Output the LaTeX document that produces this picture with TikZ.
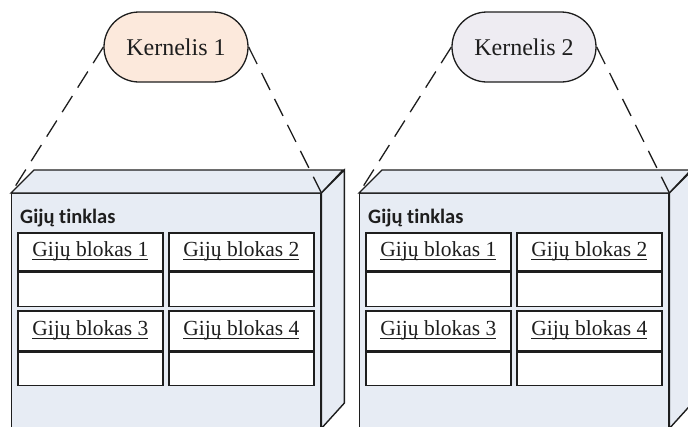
\documentclass[tikz,border=0pt]{standalone}
\usepackage{fontspec}
\setmainfont{Liberation Serif}
\newfontfamily\calib[Ligatures=NoCommon]{Carlito}
\usetikzlibrary{shapes.misc}
\definecolor{kernA}{HTML}{FCE9DC}
\definecolor{kernB}{HTML}{EEECF2}
\definecolor{cubefill}{HTML}{E7ECF4}
\definecolor{inkc}{HTML}{1E1E1E}
\newsavebox\ulbox
\newcommand{\myul}[1]{\sbox\ulbox{#1}\rlap{\usebox\ulbox}\rule[-3.6pt]{\wd\ulbox}{1.4pt}}
\tikzset{
  kernbox/.style={rounded rectangle, draw=inkc, line width=1.3pt, minimum width=144pt,
    minimum height=70pt, inner sep=0pt, text=inkc, font=\fontsize{24}{28}\selectfont},
  cubeline/.style={draw=inkc, line width=1.4pt, line join=miter},
  cubefront/.style={cubeline, fill=cubefill, rectangle, inner sep=0pt, anchor=north west,
    minimum width=309pt, minimum height=234pt},
  gridlabel/.style={anchor=base west, inner sep=0pt, text=inkc,
    font=\calib\bfseries\fontsize{20.5}{23}\selectfont},
  blkhead/.style={draw=inkc, line width=1.7pt, fill=white, rectangle, inner sep=0pt,
    anchor=north west, minimum width=145pt, text=inkc,
    text height=15pt, text depth=5pt, font=\fontsize{21.5}{24}\selectfont},
  blkbody/.style={draw=inkc, line width=1.7pt, fill=white, rectangle, inner sep=0pt,
    anchor=north, minimum width=145pt},
  kernlink/.style={draw=inkc, line width=1.3pt, dash pattern=on 19pt off 10pt}
}
\begin{document}
\begin{tikzpicture}[x=1pt,y=-1pt]
\useasboundingbox (0,0) rectangle (688,426);
\clip (0,0) rectangle (688,426);
\foreach \i/\ox/\kc in {1/0/kernA, 2/348/kernB} {
  % cube
  \node[cubefront] (c\i) at (\ox+11,193) {};
  \draw[cubeline, fill=cubefill] (c\i.north west) -- ++(23,-23) -- ++(309,0)
     -- (c\i.north east) -- cycle;
  \draw[cubeline, fill=cubefill] (c\i.north east) -- ++(23,-23) -- ++(0,233)
     -- (c\i.south east) -- cycle;
  \node[gridlabel] (t\i) at (\ox+20,223) {Gijų tinklas};
  % thread blocks
  \node[blkhead, minimum height=38pt] (h\i a) at (\ox+17,232) {\myul{Gijų blokas 1}};
  \node[blkbody, minimum height=34pt] (b\i a) at (h\i a.south) {};
  \node[blkhead, minimum height=38pt] (h\i b) at (\ox+168,232) {\myul{Gijų blokas 2}};
  \node[blkbody, minimum height=34pt] (b\i b) at (h\i b.south) {};
  \node[blkhead, minimum height=40pt] (h\i c) at (\ox+17,310) {\myul{Gijų blokas 3}};
  \node[blkbody, minimum height=33pt] (b\i c) at (h\i c.south) {};
  \node[blkhead, minimum height=40pt] (h\i d) at (\ox+168,310) {\myul{Gijų blokas 4}};
  \node[blkbody, minimum height=33pt] (b\i d) at (h\i d.south) {};
  % kernel
  \node[kernbox, fill=\kc] (k\i) at (\ox+176,47) {Kernelis \i};
  \draw[kernlink] (k\i.west) -- (c\i.north west);
  \draw[kernlink] (k\i.east) -- (c\i.north east);
}
\end{tikzpicture}
\end{document}
